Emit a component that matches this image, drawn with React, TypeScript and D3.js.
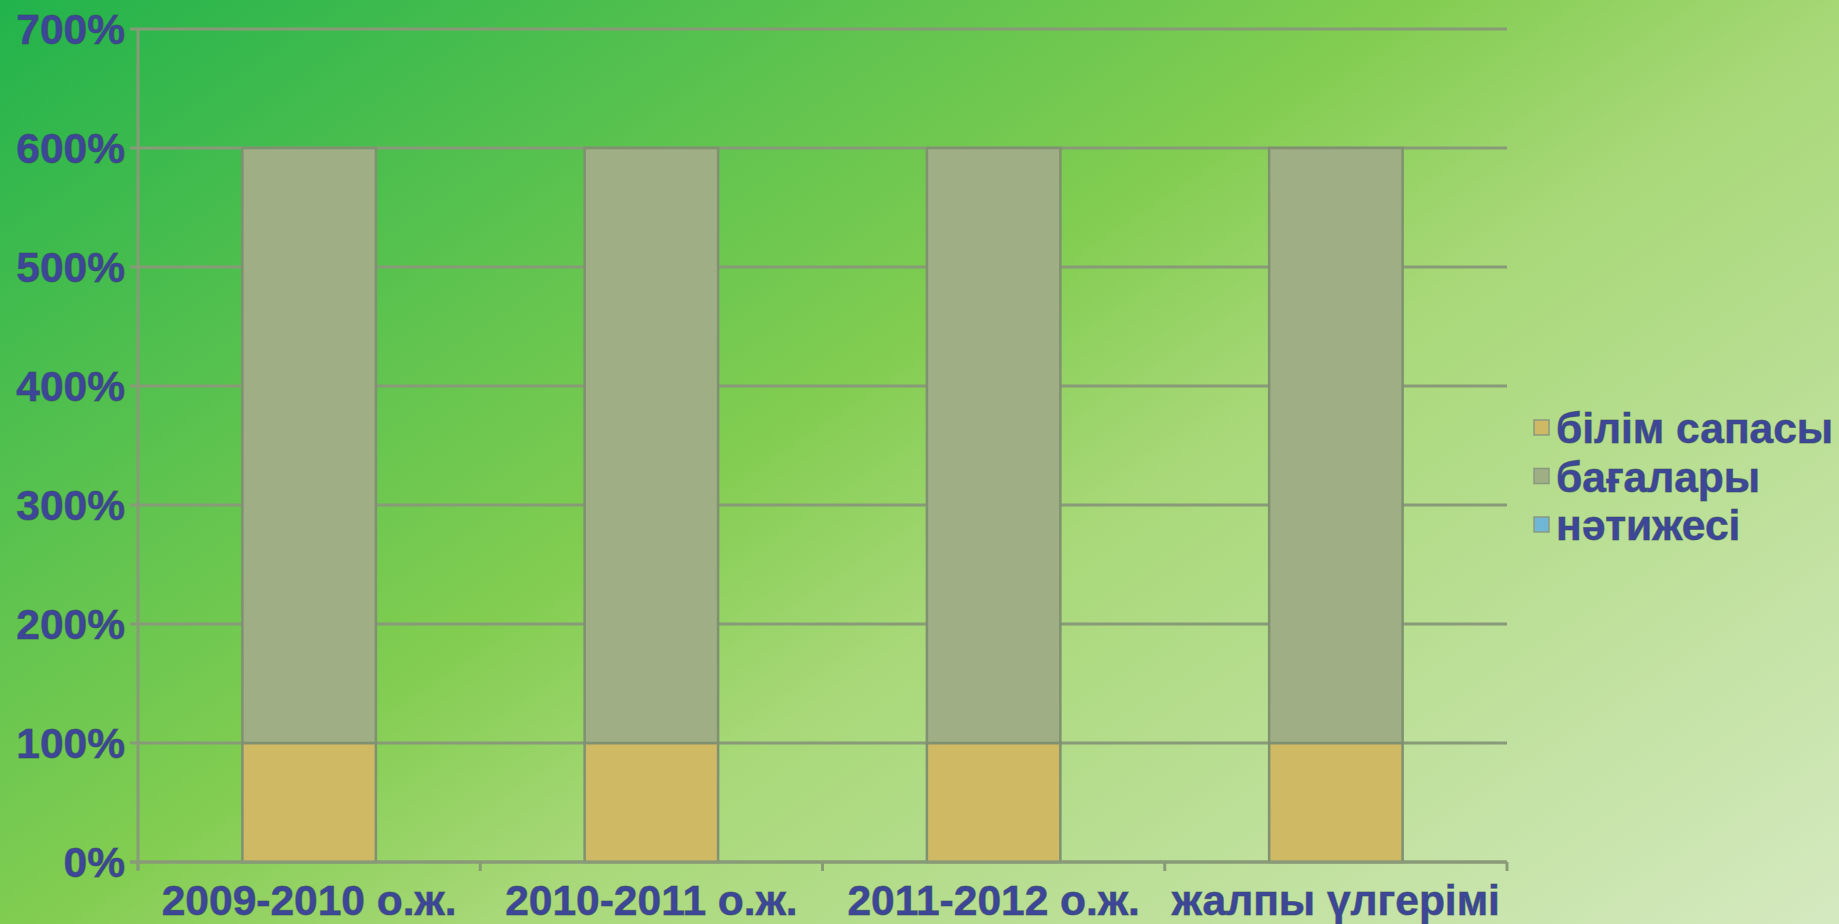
import React from "react";
import * as d3 from "d3";

const categories = ["2009-2010 о.ж.", "2010-2011 о.ж.", "2011-2012 о.ж.", "жалпы үлгерімі"];
const seriesNames = ["білім сапасы", "бағалары", "нәтижесі"];
const bilimSapasy = [1, 1, 1, 1];
const bagalary = [5, 5, 5, 5];
const natizhesi = [0, 0, 0, 0];
const yTicks = [0, 1, 2, 3, 4, 5, 6, 7];
const seriesColors = ["#cfb964", "#9fae84", "#6fb7d4"];

const W = 1839;
const H = 924;
const margin = { left: 138, right: 1507, top: 29, bottom: 862 };
const textColor = "#3d4699";
const gridColor = "#889a78";

// background gradient: t = a*x + b*y
const ga = 0.57 / W;
const gb = 0.43 / H;
const gn = ga * ga + gb * gb;
const gx2 = ga / gn;
const gy2 = gb / gn;

export default function App() {
  const x = d3.scaleBand<string>().domain(categories).range([margin.left, margin.right]).paddingInner(0.61).paddingOuter(0.305);
  const y = d3.scaleLinear().domain([0, 7]).range([margin.bottom, margin.top]);
  const rows = categories.map((c, i) => ({ cat: c, s0: bilimSapasy[i], s1: bagalary[i], s2: natizhesi[i] }));
  const stack = d3.stack<any>().keys(["s0", "s1", "s2"])(rows);
  const step = (margin.right - margin.left) / categories.length;
  const fmt = (v: number) => `${v * 100}%`;
  const textProps = { fontWeight: "bold", fill: textColor, stroke: "#34505a", strokeWidth: 1, strokeOpacity: 0.55 } as any;

  return (
    <svg width={W} height={H} style={{ position: "absolute", left: 0, top: 0 }} fontFamily="'Liberation Sans', Arial, sans-serif">
      <defs>
        <linearGradient id="bg" x1={0} y1={0} x2={gx2} y2={gy2} gradientUnits="userSpaceOnUse">
          <stop offset="0" stopColor="#22b34c" />
          <stop offset="0.44" stopColor="#82cd51" />
          <stop offset="0.58" stopColor="#a8d878" />
          <stop offset="1" stopColor="#d5e9c0" />
        </linearGradient>
      </defs>
      <rect x={0} y={0} width={W} height={H} fill="url(#bg)" />
      {yTicks.map((t) => (
        <g key={t}>
          <line x1={margin.left - 8} x2={margin.right} y1={y(t)} y2={y(t)} stroke={gridColor} strokeWidth={3} />
          <text x={125} y={y(t)} dy="0.36em" textAnchor="end" fontSize={42.5} {...textProps}>
            {fmt(t)}
          </text>
        </g>
      ))}
      {stack.map((layer, li) => (
        <g key={li}>
          {layer.map((d, i) =>
            d[1] - d[0] > 0 ? (
              <rect
                key={i}
                x={x(categories[i])}
                width={x.bandwidth()}
                y={y(d[1])}
                height={y(d[0]) - y(d[1])}
                fill={seriesColors[li]}
                stroke="#7f9170"
                strokeWidth={2.5}
              />
            ) : null
          )}
        </g>
      ))}
      <line x1={margin.left} x2={margin.left} y1={margin.top} y2={margin.bottom + 8} stroke={gridColor} strokeWidth={3} />
      <line x1={margin.left - 8} x2={margin.right} y1={margin.bottom} y2={margin.bottom} stroke={gridColor} strokeWidth={3} />
      {d3.range(categories.length + 1).map((i) => (
        <line key={i} x1={margin.left + i * step} x2={margin.left + i * step} y1={margin.bottom} y2={margin.bottom + 9} stroke={gridColor} strokeWidth={3} />
      ))}
      {categories.map((c) => (
        <text key={c} x={(x(c) as number) + x.bandwidth() / 2} y={915} textAnchor="middle" fontSize={42.5} {...textProps}>
          {c}
        </text>
      ))}
      {seriesNames.map((s, i) => (
        <g key={s} transform={`translate(1534, ${428 + i * 48.5})`}>
          <rect x={0} y={-8} width={15} height={15} fill={seriesColors[i]} stroke="#8a9a80" strokeWidth={1.5} />
          <text x={22} y={0} dy="0.36em" fontSize={42.5} {...textProps}>
            {s}
          </text>
        </g>
      ))}
    </svg>
  );
}
